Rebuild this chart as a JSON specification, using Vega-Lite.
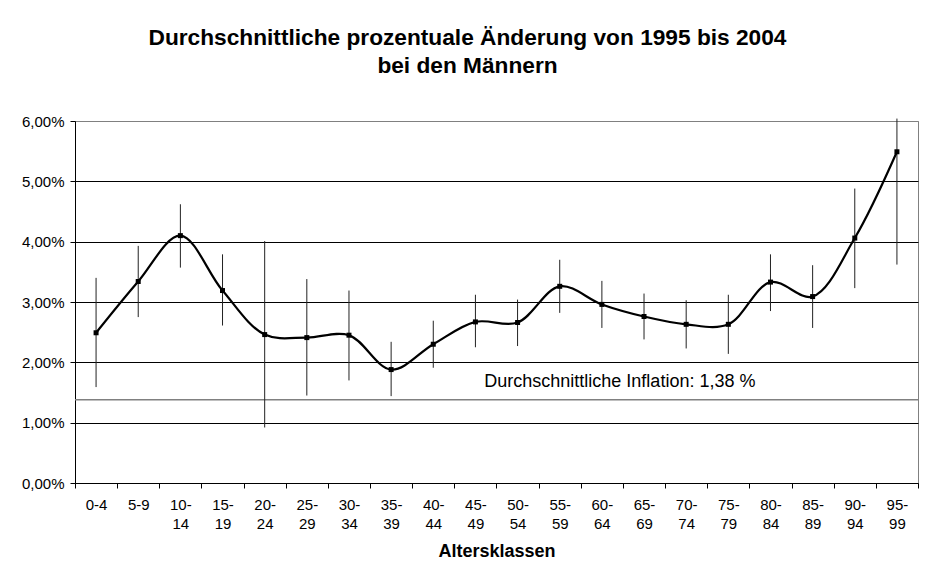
{
  "$schema": "https://vega.github.io/schema/vega-lite/v6.json",
  "autosize": {"type": "none"},
  "width": 843,
  "height": 362,
  "padding": {"left": 75, "top": 121, "right": 17, "bottom": 100},
  "background": "white",
  "config": {
    "font": "Liberation Sans",
    "view": {"stroke": "#808080", "strokeWidth": 1}
  },
  "title": {
    "text": ["Durchschnittliche prozentuale Änderung von 1995 bis 2004", "bei den Männern"],
    "fontSize": 22.7,
    "fontWeight": "bold",
    "font": "Liberation Sans",
    "color": "black",
    "anchor": "middle",
    "dx": -29,
    "lineHeight": 28,
    "offset": 36
  },
  "datasets": {
    "main": [
      {"age": "0-4", "v": 2.49, "lo": 1.59, "hi": 3.40},
      {"age": "5-9", "v": 3.34, "lo": 2.75, "hi": 3.93},
      {"age": "10-14", "v": 4.10, "lo": 3.57, "hi": 4.62},
      {"age": "15-19", "v": 3.19, "lo": 2.61, "hi": 3.79},
      {"age": "20-24", "v": 2.46, "lo": 0.92, "hi": 4.01},
      {"age": "25-29", "v": 2.41, "lo": 1.45, "hi": 3.38},
      {"age": "30-34", "v": 2.45, "lo": 1.70, "hi": 3.19},
      {"age": "35-39", "v": 1.88, "lo": 1.44, "hi": 2.34},
      {"age": "40-44", "v": 2.30, "lo": 1.91, "hi": 2.69},
      {"age": "45-49", "v": 2.67, "lo": 2.25, "hi": 3.12},
      {"age": "50-54", "v": 2.66, "lo": 2.27, "hi": 3.04},
      {"age": "55-59", "v": 3.26, "lo": 2.82, "hi": 3.70},
      {"age": "60-64", "v": 2.96, "lo": 2.57, "hi": 3.35},
      {"age": "65-69", "v": 2.76, "lo": 2.38, "hi": 3.14},
      {"age": "70-74", "v": 2.63, "lo": 2.23, "hi": 3.03},
      {"age": "75-79", "v": 2.63, "lo": 2.14, "hi": 3.12},
      {"age": "80-84", "v": 3.33, "lo": 2.85, "hi": 3.79},
      {"age": "85-89", "v": 3.09, "lo": 2.57, "hi": 3.61},
      {"age": "90-94", "v": 4.06, "lo": 3.23, "hi": 4.88},
      {"age": "95-99", "v": 5.49, "lo": 3.62, "hi": 6.04}
    ],
    "inflation": [
      {"age": "60-64", "rate": 1.38, "label": "Durchschnittliche Inflation: 1,38 %"}
    ]
  },
  "data": {"name": "main"},
  "encoding": {
    "x": {
      "field": "age",
      "type": "nominal",
      "sort": ["0-4", "5-9", "10-14", "15-19", "20-24", "25-29", "30-34", "35-39", "40-44", "45-49", "50-54", "55-59", "60-64", "65-69", "70-74", "75-79", "80-84", "85-89", "90-94", "95-99"],
      "scale": {"paddingInner": 0, "paddingOuter": 0},
      "axis": {
        "title": "Altersklassen",
        "titleFontSize": 18,
        "titleFontWeight": "bold",
        "titleColor": "black",
        "titlePadding": 11,
        "labelAngle": 0,
        "labelFontSize": 15,
        "labelColor": "black",
        "labelPadding": 9,
        "labelLineHeight": 19,
        "labelExpr": "length(datum.label) > 3 ? [slice(datum.label, 0, 3), slice(datum.label, 3)] : datum.label",
        "tickBand": "extent",
        "tickSize": 5,
        "tickColor": "black",
        "domainColor": "black",
        "grid": false
      }
    }
  },
  "layer": [
    {
      "data": {"name": "inflation"},
      "mark": {"type": "rule", "color": "#808080", "strokeWidth": 1.5},
      "encoding": {"x": null, "y": {"field": "rate", "type": "quantitative"}}
    },
    {
      "data": {"name": "inflation"},
      "mark": {"type": "text", "fontSize": 18, "color": "black", "baseline": "bottom", "align": "center", "dy": -9, "dx": 18},
      "encoding": {
        "y": {"field": "rate", "type": "quantitative"},
        "text": {"field": "label"}
      }
    },
    {
      "mark": {"type": "rule", "color": "#222222", "strokeWidth": 1},
      "encoding": {
        "y": {"field": "lo", "type": "quantitative"},
        "y2": {"field": "hi"}
      }
    },
    {
      "mark": {"type": "line", "color": "black", "strokeWidth": 2.2, "interpolate": "catmull-rom"},
      "encoding": {
        "y": {
          "field": "v",
          "type": "quantitative",
          "scale": {"domain": [0, 6], "nice": false},
          "axis": {
            "title": null,
            "values": [0, 1, 2, 3, 4, 5, 6],
            "labelExpr": "replace(format(datum.value, '.2f'), '.', ',') + '%'",
            "labelFontSize": 15,
            "labelColor": "black",
            "labelPadding": 6,
            "tickSize": 5,
            "tickColor": "black",
            "domainColor": "black",
            "grid": true,
            "gridColor": {"condition": {"test": "datum.value == 6", "value": "#808080"}, "value": "black"},
            "gridOpacity": 1
          }
        }
      }
    },
    {
      "mark": {"type": "point", "shape": "square", "filled": true, "color": "black", "size": 25, "opacity": 1},
      "encoding": {"y": {"field": "v", "type": "quantitative"}}
    }
  ]
}
